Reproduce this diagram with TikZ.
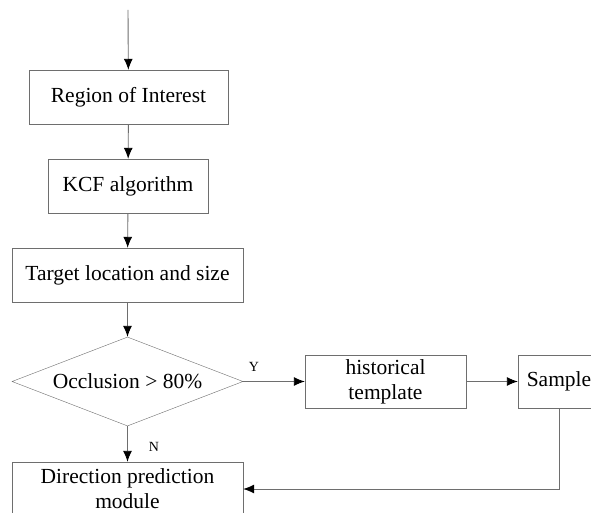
\documentclass[tikz,border=0pt]{standalone}
\usepackage{fontspec}
\IfFontExistsTF{LiberationSerif-Regular.ttf}{\newfontfamily\boxfont{LiberationSerif-Regular.ttf}}{\newfontfamily\boxfont{Liberation Serif}}
\usepackage{tikz}
\usetikzlibrary{shapes.geometric,arrows.meta}
\definecolor{mylinecolor}{HTML}{6e6e6e}

\begin{document}
\begin{tikzpicture}[x=1pt,y=-1pt,%
  mybox/.style={draw=mylinecolor, fill=white, rectangle, minimum height=54pt, inner sep=0pt, align=center, font=\boxfont\fontsize{21.5pt}{25pt}\selectfont},%
  myarrow/.style={draw=mylinecolor, line width=0.9pt, -{Latex[black,length=11pt,width=9pt]}}]%
\clip (0,0) rectangle (591,513);%
\fill[white] (0,0) rectangle (591,513);%
\coordinate (start) at (128, 10);%
\node[mybox, minimum width=199pt] (roi) at (128.5, 97) {Region of Interest};%
\node[mybox, minimum width=160pt] (kcf) at (128, 186) {KCF algorithm};%
\node[mybox, minimum width=231pt] (target) at (127.5, 275) {Target location and size};%
\node[mybox, diamond, shape aspect=2.6, minimum width=231pt, minimum height=89pt] (occ) at (127.5, 381.5) {Occlusion > 80\%};%
\node[mybox, minimum width=161pt, minimum height=53pt] (hist) at (385.5, 381.5) {historical\\template};%
\node[mybox, minimum width=82pt, minimum height=53pt] (sample) at (559, 381.5) {Sample};%
\node[mybox, minimum width=231pt] (dir) at (127.5, 489) {Direction prediction\\module};%
\node[font=\boxfont\fontsize{14pt}{14pt}\selectfont] (ylab) at (254, 367) {Y};%
\node[font=\boxfont\fontsize{14pt}{14pt}\selectfont] (nlab) at (154, 447) {N};%
\draw[myarrow] (start) -- (roi);%
\draw[myarrow] (roi) -- (kcf);%
\draw[myarrow] (kcf) -- (target);%
\draw[myarrow] (target) -- (occ);%
\draw[myarrow] (occ) -- (hist);%
\draw[myarrow] (hist) -- (sample);%
\draw[myarrow] (occ) -- (dir);%
\draw[myarrow] (sample.south) |- (dir.east);%
\end{tikzpicture}
\end{document}
